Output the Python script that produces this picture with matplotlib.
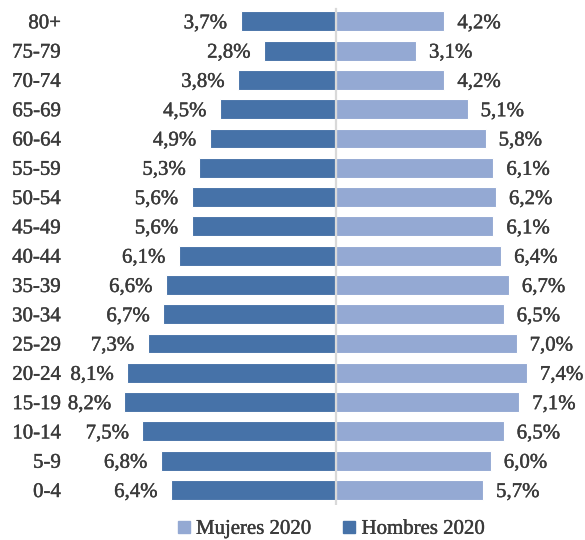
import numpy as np
import matplotlib
matplotlib.use("Agg")
import matplotlib.pyplot as plt
import matplotlib.patheffects as pe
from matplotlib.lines import Line2D

# age groups from youngest to oldest
ages = ["0-4", "5-9", "10-14", "15-19", "20-24", "25-29", "30-34", "35-39",
        "40-44", "45-49", "50-54", "55-59", "60-64", "65-69", "70-74", "75-79", "80+"]
hombres = [6.4, 6.8, 7.5, 8.2, 8.1, 7.3, 6.7, 6.6, 6.1, 5.6, 5.6, 5.3, 4.9, 4.5, 3.8, 2.8, 3.7]
mujeres = [5.7, 6.0, 6.5, 7.1, 7.4, 7.0, 6.5, 6.7, 6.4, 6.1, 6.2, 6.1, 5.8, 5.1, 4.2, 3.1, 4.2]

dark = "#4672A8"
light = "#94A9D3"
txt = "#3A3A3A"

plt.rcParams['font.family'] = ['Liberation Serif', 'DejaVu Serif']
fs = 15
# a touch heavier than regular, the original uses Cambria
thick = [pe.withStroke(linewidth=0.3, foreground=txt)]

W, H = 585, 540
fig = plt.figure(figsize=(W / 100, H / 100), dpi=100)
ax = fig.add_axes([65 / W, 35.35 / H, 1 - 65 / W, 498 / H])

y = np.arange(len(ages))
ax.barh(y, [-v for v in hombres], height=0.68, color=dark, edgecolor="white", linewidth=0.8, zorder=2)
ax.barh(y, mujeres, height=0.68, color=light, edgecolor="white", linewidth=0.8, zorder=2)
ax.axvline(0, color="#D9D9D9", lw=1.6, ymin=0.0, ymax=0.995, zorder=3)

scale = 25.8  # px per percent
ax.set_xlim(-(336 - 65) / scale, (585 - 336) / scale)
ax.set_ylim(-0.5, len(ages) - 0.5)

off = 13 / scale
for i in range(len(ages)):
    ax.text(-hombres[i] - off, y[i], f"{hombres[i]:.1f}%".replace(".", ","),
            ha="right", va="center_baseline", fontsize=fs, color=txt, path_effects=thick)
    ax.text(mujeres[i] + off, y[i], f"{mujeres[i]:.1f}%".replace(".", ","),
            ha="left", va="center_baseline", fontsize=fs, color=txt, path_effects=thick)

ax.set_yticks(y)
ax.set_yticklabels(ages, fontsize=fs, color=txt)
for t in ax.get_yticklabels():
    t.set_path_effects(thick)
    t.set_verticalalignment("center_baseline")
ax.tick_params(axis="y", length=0, pad=3)
ax.set_xticks([])
for s in ax.spines.values():
    s.set_visible(False)

handles = [Line2D([], [], marker="s", ls="", color=light, markersize=8),
           Line2D([], [], marker="s", ls="", color=dark, markersize=8)]
leg = fig.legend(handles, ["Mujeres 2020", "Hombres 2020"], loc="center",
                 bbox_to_anchor=(330 / W, 11 / H), ncol=2, frameon=False,
                 fontsize=fs, labelcolor=txt, handlelength=0.8, handletextpad=0.2,
                 columnspacing=1.4)
for t in leg.get_texts():
    t.set_path_effects(thick)

fig.savefig("out.png", dpi=100)
